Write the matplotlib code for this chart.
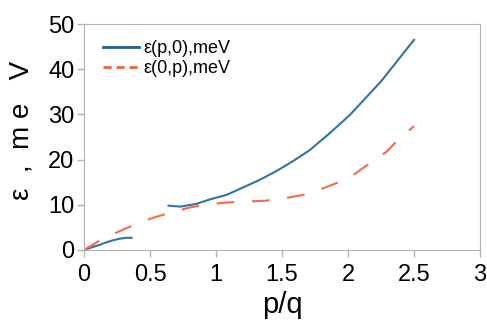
import numpy as np
import matplotlib.pyplot as plt
from matplotlib.lines import Line2D

plt.rcParams['font.family'] = ['Liberation Sans', 'DejaVu Sans']

# blue curve, two branches
p_low = [0.0, 0.06, 0.12, 0.17, 0.22, 0.27, 0.32, 0.36]
e_low = [0.0, 0.6, 1.15, 1.7, 2.15, 2.5, 2.7, 2.7]
p_high = [0.64, 0.73, 0.85, 0.955, 1.08, 1.21, 1.33, 1.46, 1.58, 1.71,
          1.86, 2.015, 2.12, 2.25, 2.37, 2.5]
e_high = [9.8, 9.6, 10.2, 11.2, 12.2, 13.9, 15.5, 17.5, 19.6, 22.1,
          25.8, 29.9, 33.2, 37.3, 41.7, 46.5]

# orange dashed curve
p_0p = [0.0, 0.12, 0.25, 0.39, 0.52, 0.66, 0.80, 0.94, 1.08, 1.22, 1.37,
        1.51, 1.66, 1.79, 1.93, 2.05, 2.17, 2.29, 2.39, 2.5]
e_0p = [0.0, 2.1, 3.9, 5.7, 7.1, 8.3, 9.4, 10.1, 10.5, 10.7, 10.9,
        11.4, 12.2, 13.4, 15.0, 16.8, 19.3, 21.7, 24.7, 27.4]

blue = '#3173aa'
orange = '#f26c4f'

fig = plt.figure(figsize=(4.87, 3.21), dpi=100)
ax = fig.add_axes([0.1725, 0.2212, 0.8131, 0.704])

ax.plot(p_low, e_low, color=blue, lw=1.5)
ax.plot(p_high, e_high, color=blue, lw=1.5)
ax.plot(p_0p, e_0p, color=orange, lw=1.5, dashes=(8.5, 8.5))

ax.set_xlim(0, 3)
ax.set_ylim(0, 50)
ax.set_xticks([0, 0.5, 1, 1.5, 2, 2.5, 3])
ax.set_xticklabels(['0', '0.5', '1', '1.5', '2', '2.5', '3'])
ax.set_yticks([0, 10, 20, 30, 40, 50])

for s in ax.spines.values():
    s.set_color('#b3b3b3')
ax.tick_params(colors='#b3b3b3', labelcolor='black', labelsize=17, length=5, width=1)
ax.tick_params(axis='x', pad=5)
ax.tick_params(axis='y', pad=2)

ax.set_xlabel('p/q', fontsize=21, labelpad=4)
ax.set_ylabel('ε  ,  m e   V', fontsize=20, labelpad=2)
ax.yaxis.set_label_coords(-0.125, 0.53)

# legend handles drawn like the original (short dashes for the second one)
handles = [Line2D([], [], color='#245e96', lw=2),
           Line2D([], [], color='#f4603f', lw=2, dashes=(2.9, 1.8))]
ax.legend(handles, ['ε(p,0),meV', 'ε(0,p),meV'], loc='upper left',
          bbox_to_anchor=(0.03, 0.96), frameon=False,
          fontsize=13, handlelength=2.0, handletextpad=0.25, labelspacing=0.15,
          borderaxespad=0)

fig.savefig('out.png', dpi=100)
